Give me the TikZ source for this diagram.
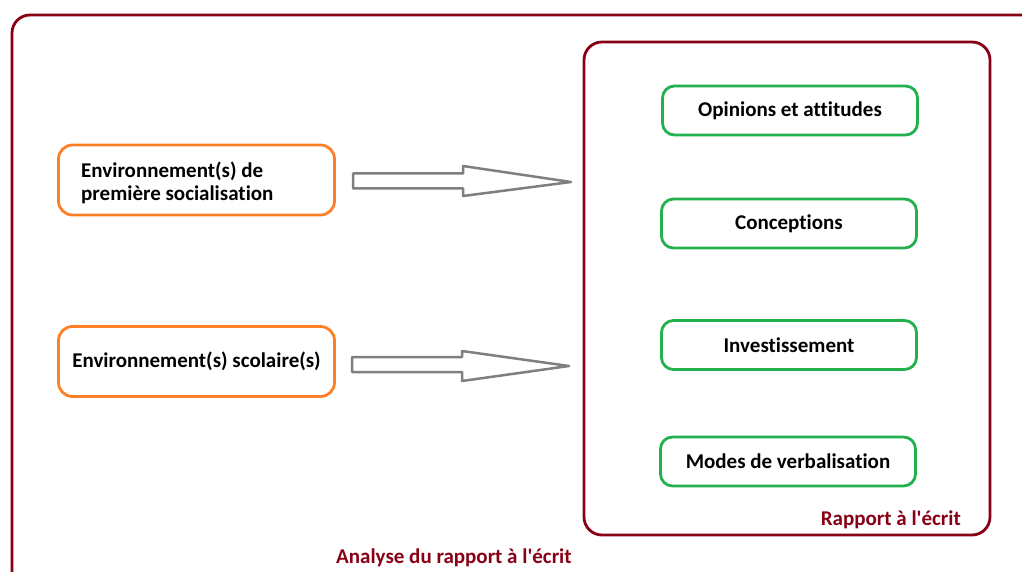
\documentclass[tikz,border=0pt]{standalone}
\usepackage{fontspec}
\setmainfont[Ligatures=NoCommon]{Carlito}
\usetikzlibrary{calc}
\definecolor{pdred}{HTML}{880015}
\definecolor{porange}{HTML}{FF7F27}
\definecolor{pgreen}{HTML}{22B14C}
\definecolor{pgray}{HTML}{7F7F7F}
\tikzset{
  frame/.style={draw=pdred, line width=2.8pt, rounded corners=18pt},
  envbox/.style={draw=porange, line width=2.8pt, rounded corners=14pt, minimum width=276pt, minimum height=70pt, font=\bfseries\fontsize{21}{23.5}\selectfont, align=left, inner sep=0pt},
  dimbox/.style={draw=pgreen, line width=2.8pt, rounded corners=12pt, minimum width=255pt, minimum height=49pt, font=\bfseries\fontsize{21}{24}\selectfont, inner sep=0pt},
  blockarrow/.style={draw=pgray, line width=2.5pt, fill=white, line join=round},
  framelabel/.style={text=pdred, font=\bfseries\fontsize{21}{24}\selectfont, inner sep=0pt}
}
\begin{document}
\begin{tikzpicture}[x=1pt,y=-1pt]
\useasboundingbox (0,0) rectangle (1022,572);
\clip (0,0) rectangle (1022,572);
% outer frame
\draw[frame] (12,15) rectangle (1040,590);
\node[framelabel, anchor=base west] (analyse) at (336,563) {Analyse du rapport à l\textquotesingle écrit};
% inner frame
\draw[frame] (584,42) rectangle (990,535);
\node[framelabel, anchor=base east] (rapport) at (961,525) {Rapport à l\textquotesingle écrit};
% left boxes
\node[envbox] (env1) at (196.5,180) {};
\node[anchor=west, font=\bfseries\fontsize{21}{23.5}\selectfont, align=left, inner sep=0pt] (env1t) at (81,183) {Environnement(s) de\\première socialisation};
\node[envbox] (env2) at (196.5,361.5) {\raisebox{-1.5pt}{Environnement(s) scolaire(s)}};
% right boxes
\node[dimbox] (opin) at (790,110.5) {\raisebox{-1.5pt}{Opinions et attitudes}};
\node[dimbox] (conc) at (789,223.5) {\raisebox{-1.5pt}{Conceptions}};
\node[dimbox] (inv) at (789,345) {\raisebox{-1.5pt}{Investissement}};
\node[dimbox] (modes) at (788,461.5) {\raisebox{-1pt}{Modes de verbalisation}};
% block arrows
\coordinate (a1s) at (353,181);
\coordinate (a1t) at (571,182);
\draw[blockarrow] ($(a1s)+(0,-7.5)$) -- (463,173.5) -- (463,166) -- (a1t) -- (463,196) -- (463,188.5) -- ($(a1s)+(0,7.5)$) -- cycle;
\coordinate (a2s) at (352,364.5);
\coordinate (a2t) at (569,366);
\draw[blockarrow] ($(a2s)+(0,-7.5)$) -- (462,357) -- (462,351) -- (a2t) -- (462,381) -- (462,372) -- ($(a2s)+(0,7.5)$) -- cycle;
\end{tikzpicture}
\end{document}
